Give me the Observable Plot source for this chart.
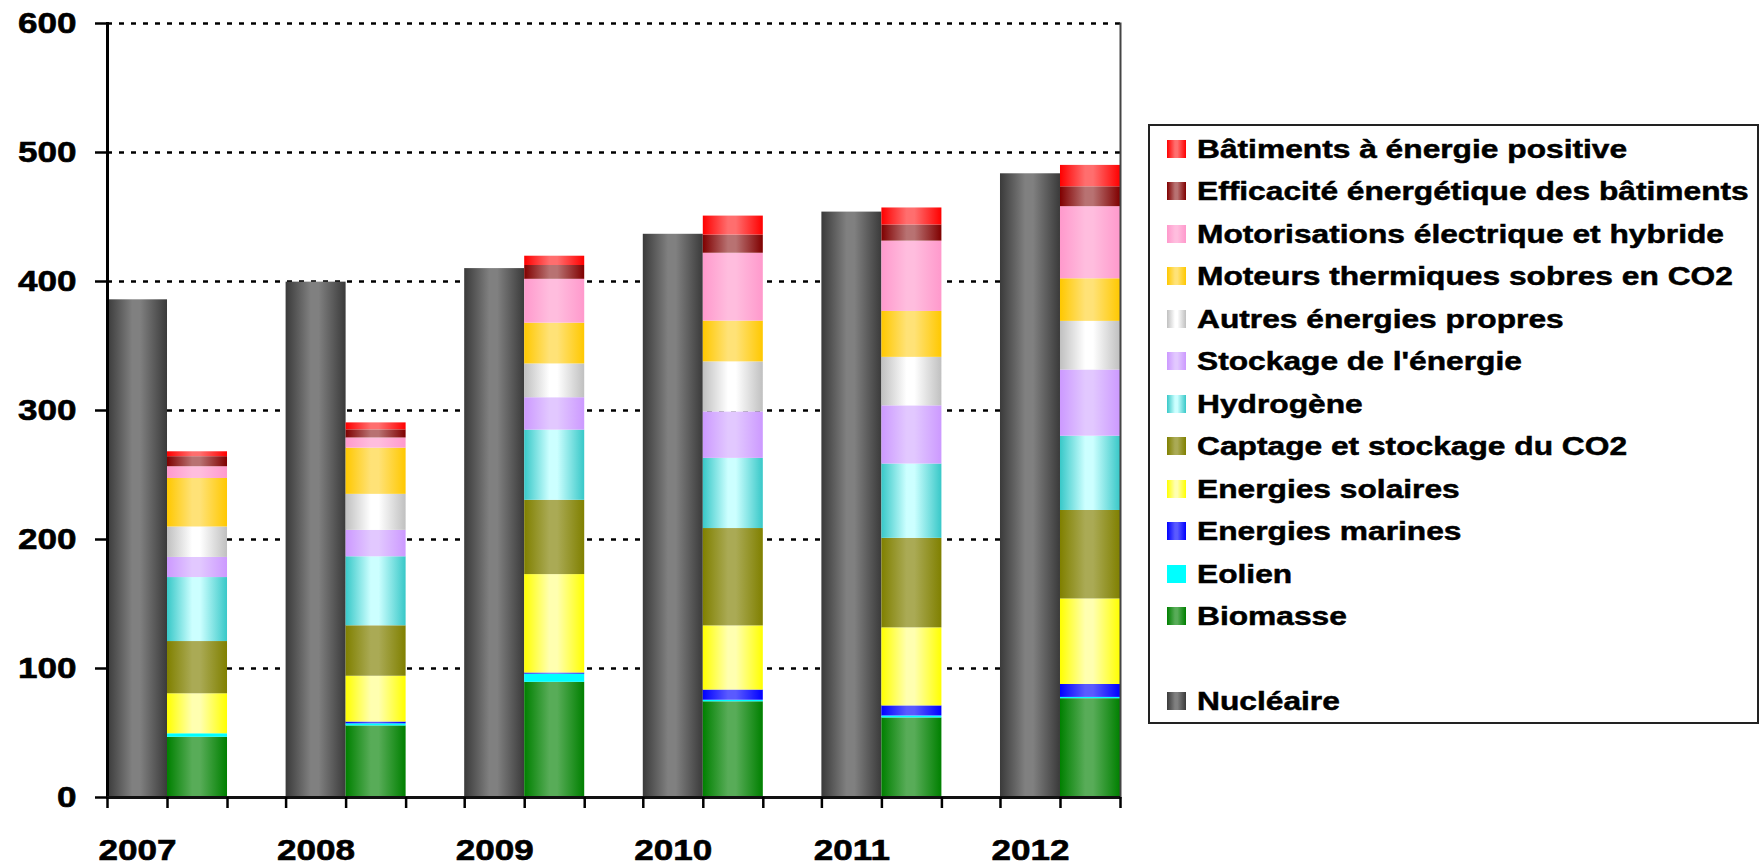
<!DOCTYPE html>
<html>
<head>
<meta charset="utf-8">
<script src="https://cdn.jsdelivr.net/npm/d3@7"></script>
<script src="https://cdn.jsdelivr.net/npm/@observablehq/plot@0.6"></script>
<style>
  body { margin: 0; background: #fff; }
  #wrap { position: relative; width: 1762px; height: 865px; font-family: "Liberation Sans", Arial, sans-serif; font-weight: bold; color: #000; }
  #chart { position: absolute; left: 0; top: 0; }
  #chart text { stroke: #000; stroke-width: 0.6px; paint-order: stroke; }
  #legend { position: absolute; left: 1148px; top: 124px; width: 611px; height: 600px; border: 2px solid #222; box-sizing: border-box; background: #fff; }
  .item { position: absolute; left: 0; height: 40px; width: 100%; }
  .sw { position: absolute; left: 17px; top: 11px; width: 19px; height: 18px; }
  .lab { position: absolute; left: 47px; top: 7px; font-size: 26px; line-height: 26px; white-space: nowrap; transform: scaleX(1.22); transform-origin: 0 50%; -webkit-text-stroke: 0.5px #000; }
</style>
</head>
<body>
<div id="wrap">
  <div id="chart"></div>
  <div id="legend"></div>
</div>
<script>
// ---------- DATA ----------
const years = ["2007", "2008", "2009", "2010", "2011", "2012"];

// stacked series, bottom to top
const seriesNames = [
  "Biomasse",
  "Eolien",
  "Energies marines",
  "Energies solaires",
  "Captage et stockage du CO2",
  "Hydrogène",
  "Stockage de l'énergie",
  "Autres énergies propres",
  "Moteurs thermiques sobres en CO2",
  "Motorisations électrique et hybride",
  "Efficacité énergétique des bâtiments",
  "Bâtiments à énergie positive"
];
const biomasse      = [46.7, 55.5, 89.3, 74.2, 61.7, 76.6];
const eolien        = [2.7, 1.6, 6.3, 1.2, 1.5, 1.0];
const marines       = [0, 1.4, 0.9, 7.9, 7.8, 10.0];
const solaires      = [31.0, 35.5, 76.3, 49.7, 60.5, 66.3];
const captage       = [40.5, 39.1, 57.6, 75.5, 69.4, 68.6];
const hydrogene     = [49.6, 53.5, 54.4, 54.4, 57.6, 57.6];
const stockage      = [15.6, 20.5, 25.1, 36.0, 45.1, 51.3];
const autres        = [23.6, 27.9, 26.2, 38.8, 37.6, 37.7];
const moteurs       = [37.6, 35.8, 31.6, 31.6, 35.6, 33.0];
const motorisations = [9.1, 7.9, 34.0, 52.6, 54.5, 55.9];
const efficacite    = [7.8, 6.3, 10.7, 14.1, 12.5, 15.4];
const batiments     = [3.8, 5.4, 7.2, 14.7, 13.2, 16.6];
const seriesValues = [biomasse, eolien, marines, solaires, captage, hydrogene, stockage, autres, moteurs, motorisations, efficacite, batiments];

const nuclearName = "Nucléaire";
const nucleaire = [385.8, 399.5, 410.0, 436.6, 453.8, 483.5];

const yTicks = [0, 100, 200, 300, 400, 500, 600];
const gridValues = [100, 200, 300, 400, 500, 600];

// ---------- STYLES (edge colour, centre colour) ----------
const edgeColors   = ["#008000", "#00FFFF", "#0000FF", "#FFFF00", "#808000", "#38C8C8", "#CC99FF", "#C0C0C0", "#FFC800", "#FF99CC", "#800000", "#FF0000"];
const centerColors = ["#58AC58", "#00FFFF", "#5A5AFF", "#FFFFB0", "#AAAA55", "#CCFFFF", "#E2C8FF", "#FFFFFF", "#FFE277", "#FFBDDE", "#B87272", "#FF6E6E"];
const nucEdge = "#3A3A3A", nucCenter = "#808080";

// ---------- LAYOUT ----------
const W = 1140, H = 865, ML = 107, MR = 20, MT = 23, MB = 68;
const PAD = 0.328;
const bw = (W - ML - MR) * (1 - PAD) / (years.length - PAD);

const stackData = [];
seriesNames.forEach((s, i) => seriesValues[i].forEach((v, j) => {
  stackData.push({year: years[j], series: s, value: v, fill: `url(#grad${i})`});
}));
const nucData = years.map((y, j) => ({year: y, value: nucleaire[j]}));

const axisStyle = {stroke: "#000", strokeWidth: 2.5};

const svg = Plot.plot({
  width: W, height: H,
  marginLeft: ML, marginRight: MR, marginTop: MT, marginBottom: MB,
  style: {fontFamily: '"Liberation Sans", Arial, sans-serif', fontSize: "30px", fontWeight: "bold", color: "#000", background: "#fff", overflow: "visible"},
  x: {type: "band", domain: years, paddingInner: PAD, paddingOuter: 0, round: false, label: null},
  y: {domain: [0, 600], label: null},
  color: {type: "identity"},
  marks: [
    Plot.ruleY(gridValues, {stroke: "#000", strokeWidth: 2.3, strokeDasharray: "5,7"}),
    Plot.barY(nucData, {x: "year", y: "value", fill: () => "url(#gradN)", insetRight: bw / 2}),
    Plot.barY(stackData, {x: "year", y: "value", z: "series", fill: "fill", insetLeft: bw / 2}),
    Plot.frame({anchor: "left", stroke: "#000", strokeWidth: 3}),
    Plot.frame({anchor: "right", stroke: "#444", strokeWidth: 2}),
    Plot.ruleY([0], {stroke: "#111", strokeWidth: 3}),
    Plot.axisY(yTicks, {tickSize: 12, tickPadding: 19, ...axisStyle, tickFormat: d => String(d)}),
    Plot.axisX({tickSize: 11, ...axisStyle, dx: -bw / 2, tickFormat: () => ""}),
    Plot.axisX({tickSize: 11, ...axisStyle, tickFormat: () => ""}),
    Plot.axisX({tickSize: 11, ...axisStyle, dx: bw / 2, tickFormat: () => ""}),
    Plot.axisX({tickSize: 0, tickPadding: 41, dx: -bw / 4})
  ]
});

// gradients
const defs = d3.select(svg).insert("defs", ":first-child");
function addGrad(id, edge, center) {
  const g = defs.append("linearGradient").attr("id", id).attr("x1", 0).attr("x2", 1).attr("y1", 0).attr("y2", 0);
  [[0, edge], [0.42, center], [0.55, center], [1, edge]].forEach(([o, c]) => g.append("stop").attr("offset", o).attr("stop-color", c));
}
edgeColors.forEach((e, i) => addGrad(`grad${i}`, e, centerColors[i]));
addGrad("gradN", nucEdge, nucCenter);

// horizontal stretch of tick labels (reference font is widened)
svg.querySelectorAll('g[aria-label="y-axis tick label"] text, g[aria-label="x-axis tick label"] text').forEach(t => {
  const tr = t.getAttribute("transform") || "";
  const x = parseFloat(t.getAttribute("x"));
  let pre = "";
  if (!isNaN(x) && String(t.getAttribute("x")).indexOf("em") < 0) { pre = ` translate(${x},0)`; t.removeAttribute("x"); }
  t.setAttribute("transform", `${tr}${pre} scale(1.17,1)`);
});

document.getElementById("chart").appendChild(svg);

// ---------- LEGEND ----------
const legend = document.getElementById("legend");
const legendEntries = [];
for (let i = seriesNames.length - 1; i >= 0; i--) legendEntries.push({name: seriesNames[i], edge: edgeColors[i], center: centerColors[i]});
legendEntries.push(null);
legendEntries.push({name: nuclearName, edge: nucEdge, center: nucCenter});
const firstCenter = 148.5 - 126, step = 42.5;
legendEntries.forEach((e, k) => {
  if (!e) return;
  const item = document.createElement("div");
  item.className = "item";
  item.style.top = (firstCenter + k * step - 20) + "px";
  const sw = document.createElement("div");
  sw.className = "sw";
  sw.style.background = `linear-gradient(to right, ${e.edge} 0%, ${e.center} 42%, ${e.center} 55%, ${e.edge} 100%)`;
  const lab = document.createElement("div");
  lab.className = "lab";
  lab.textContent = e.name;
  item.appendChild(sw);
  item.appendChild(lab);
  legend.appendChild(item);
});
</script>
</body>
</html>
